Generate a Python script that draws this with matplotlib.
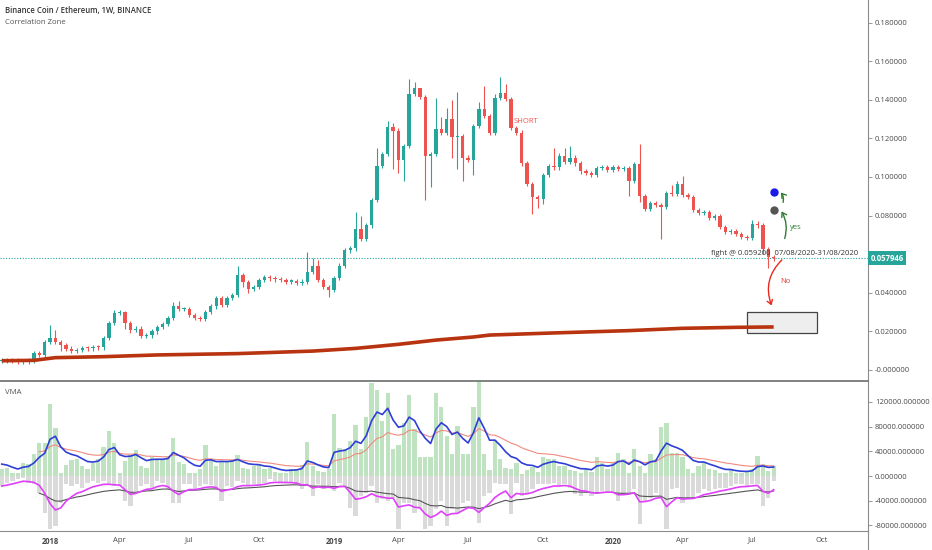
import numpy as np
import pandas as pd
import matplotlib
matplotlib.use('Agg')
import matplotlib.pyplot as plt
from matplotlib.patches import Rectangle, FancyArrowPatch
from matplotlib.lines import Line2D
import matplotlib.transforms as mtransforms

plt.rcParams['font.family'] = ['Open Sans', 'DejaVu Sans']

# ---- data (weekly BNB/ETH) ----
first_week = '2017-10-30'
first_open = 0.0048

closes = [
    0.0050, 0.0050, 0.0048, 0.0041, 0.0044, 0.0050, 0.0088, 0.0078, 0.0145, 0.0166,
    0.0145, 0.0130, 0.0110, 0.0098, 0.0104, 0.0114, 0.0112, 0.0120, 0.0117, 0.0166,
    0.0244, 0.0295, 0.0302, 0.0243, 0.0207, 0.0215, 0.0176, 0.0180, 0.0200, 0.0223,
    0.0238, 0.0270, 0.0330, 0.0316, 0.0316, 0.0285, 0.0270, 0.0264, 0.0300, 0.0330,
    0.0373, 0.0337, 0.0373, 0.0389, 0.0490, 0.0456, 0.0420, 0.0430, 0.0466, 0.0480,
    0.0475, 0.0470, 0.0466, 0.0458, 0.0462, 0.0452, 0.0458, 0.0510, 0.0540, 0.0466,
    0.0430, 0.0414, 0.0476, 0.0540, 0.0620, 0.0630, 0.0730, 0.0680, 0.0750, 0.0880,
    0.1057, 0.1120, 0.1260, 0.1240, 0.1090, 0.1160, 0.1430, 0.1460, 0.1415, 0.1110,
    0.1120, 0.1250, 0.1230, 0.1300, 0.1207, 0.1210, 0.1100, 0.1090, 0.1265, 0.1350,
    0.1316, 0.1230, 0.1410, 0.1435, 0.1404, 0.1254, 0.1230, 0.1070, 0.0964, 0.0896,
    0.0886, 0.1010, 0.1057, 0.1050, 0.1110, 0.1080, 0.1100, 0.1070, 0.1030, 0.1020,
    0.1010, 0.1047, 0.1050, 0.1036, 0.1050, 0.1043, 0.1047, 0.0980, 0.1067, 0.0900,
    0.0834, 0.0865, 0.0855, 0.0845, 0.0917, 0.0912, 0.0964, 0.0907, 0.0896, 0.0829,
    0.0813, 0.0818, 0.0790, 0.0798, 0.0740, 0.0715, 0.0720, 0.0705, 0.0690, 0.0684,
    0.0756, 0.0750, 0.0627, 0.0585, 0.0579,
]

# long wicks (bar index -> price), other wicks are short
wick_high = {9: 0.0233, 10: 0.0207, 21: 0.031, 22: 0.031, 23: 0.0305, 32: 0.035,
             33: 0.036, 44: 0.054, 45: 0.050, 57: 0.061, 58: 0.058, 59: 0.057,
             66: 0.082, 67: 0.080, 70: 0.115, 72: 0.129, 73: 0.128, 76: 0.151,
             77: 0.149, 78: 0.146, 81: 0.141, 82: 0.131, 83: 0.136, 84: 0.140,
             85: 0.144, 89: 0.139, 90: 0.147, 92: 0.143, 93: 0.152, 94: 0.148,
             103: 0.115, 105: 0.115, 106: 0.116, 119: 0.117, 125: 0.096,
             126: 0.098, 127: 0.1005, 140: 0.0775, 141: 0.077}
wick_low = {10: 0.0135, 11: 0.0100, 23: 0.021, 24: 0.019, 26: 0.0165, 45: 0.043,
            46: 0.040, 61: 0.038, 73: 0.104, 74: 0.102, 75: 0.098, 79: 0.088,
            80: 0.095, 84: 0.110, 85: 0.104, 86: 0.098, 88: 0.101, 99: 0.081,
            100: 0.084, 101: 0.086, 117: 0.090, 119: 0.087, 123: 0.068,
            142: 0.060, 143: 0.053}
wick_pad = 0.0012

# thick long-term average line (bar index, price)
slow_idx = [0, 6, 10, 19, 29, 44, 58, 66, 74, 81, 88, 91, 103, 117, 127, 137, 144]
slow_val = [0.0048, 0.0050, 0.0064, 0.0069, 0.0078, 0.0085, 0.0098, 0.0112, 0.0133,
            0.0155, 0.0171, 0.0181, 0.0192, 0.0204, 0.0216, 0.0221, 0.0223]

# VMA pane, thousands
up_vol = [
    10.8, 13.5, 5.4, 4.3, 21.6, 18.9, 35.1, 53.0, 53.0, 116.0,
    77.0, 4.3, 17.3, 26.0, 27.0, 16.2, 11.9, 20.5, 28.1, 47.6,
    73.0, 54.0, 5.4, 24.3, 33.5, 41.6, 16.2, 13.5, 31.3, 28.1,
    27.0, 31.3, 62.2, 22.7, 18.9, 5.4, 4.3, 11.9, 49.7, 28.1,
    16.2, 24.3, 22.7, 26.0, 33.5, 13.5, 11.9, 16.2, 17.3, 10.8,
    13.5, 6.5, 4.3, 5.4, 10.8, 10.8, 17.3, 55.1, 16.2, 8.1,
    6.5, 10.8, 100.0, 46.0, 44.3, 56.8, 82.2, 44.3, 96.2, 150.0,
    139.0, 89.2, 135.0, 43.2, 49.7, 86.5, 131.0, 75.7, 31.3, 31.3,
    31.3, 134.0, 112.0, 64.9, 35.1, 81.0, 35.1, 35.1, 112.0, 154.0,
    35.1, 9.7, 58.4, 28.1, 13.5, 11.9, 21.6, 2.7, 9.7, 15.1,
    6.5, 31.3, 28.1, 28.1, 16.2, 16.2, 9.7, 8.1, 5.4, 10.8,
    6.5, 31.3, 21.6, 11.9, 21.6, 37.8, 27.0, 5.4, 43.2, 16.2,
    5.4, 35.1, 28.1, 80.0, 85.4, 37.8, 37.8, 31.3, 11.9, 5.4,
    16.2, 22.7, 10.8, 9.7, 5.4, 4.3, 9.7, 4.3, 5.4, 6.5,
    10.8, 32.4, 18.9, 8.1, 16.2,
]
down_vol = [
    -16.2, -10.8, -8.1, -5.4, -2.7, -10.8, -13.5, -27.0, -59.5, -86.5,
    -81.0, -43.2, -13.5, -16.2, -13.5, -18.9, -10.8, -8.1, -10.8, -8.1,
    -13.5, -16.2, -16.2, -40.5, -48.6, -24.3, -16.2, -13.5, -18.9, -8.1,
    -10.8, -21.6, -43.2, -43.2, -13.5, -13.5, -22.7, -16.2, -13.5, -15.1,
    -21.6, -40.5, -16.2, -17.3, -8.1, -10.8, -16.2, -13.5, -13.5, -10.8,
    -5.4, -8.1, -10.8, -10.8, -10.8, -13.5, -21.6, -13.5, -32.4, -13.5,
    -21.6, -16.2, -24.3, -10.8, -16.2, -51.3, -64.9, -32.4, -27.0, -16.2,
    -43.2, -37.8, -40.5, -35.1, -86.5, -43.2, -43.2, -59.5, -54.0, -86.5,
    -81.0, -54.0, -40.5, -81.0, -54.0, -59.5, -43.2, -40.5, -54.0, -75.7,
    -32.4, -27.0, -10.8, -13.5, -13.5, -62.2, -10.8, -32.4, -27.0, -21.6,
    -13.5, -13.5, -13.5, -10.8, -16.2, -13.5, -18.9, -29.7, -32.4, -27.0,
    -32.4, -29.7, -24.3, -24.3, -27.0, -40.5, -29.7, -27.0, -21.6, -78.4,
    -40.5, -35.1, -27.0, -32.4, -86.5, -21.6, -18.9, -43.2, -35.1, -35.1,
    -27.0, -21.6, -24.3, -21.6, -18.9, -18.9, -16.2, -13.5, -13.5, -16.2,
    -13.5, -13.5, -48.6, -35.1, -8.1,
]
# averages start values (read at their first point)
fast_up_seed, slow_up_seed = 22.7, 37.8
fast_dn_seed, slow_dn_seed = -16.2, -28.0
slow_start = 7

month_ticks = ['2018-01', '2018-04', '2018-07', '2018-10', '2019-01', '2019-04',
               '2019-07', '2019-10', '2020-01', '2020-04', '2020-07', '2020-10']

price_ticks = [0.0, 0.02, 0.04, 0.08, 0.10, 0.12, 0.14, 0.16, 0.18]  # 0.06 sits under the price tag
vma_ticks = [-80, -40, 0, 40, 80, 120]
last_price = 0.057946

GREEN = '#26a69a'
RED = '#ef5350'
TXT = '#4a4a4a'
W, H = 932, 550

# ---- figure ----
fig = plt.figure(figsize=(W / 100, H / 100), dpi=100)
ax = fig.add_axes([0, 1 - 381 / H, 868 / W, 381 / H])
axv = fig.add_axes([0, 19 / H, 868 / W, 150 / H], sharex=ax)

n = len(closes)
x = np.arange(n)
c = np.array(closes)
o = np.array([first_open] + closes[:-1])
hi = np.array([wick_high.get(i, max(o[i], c[i]) + wick_pad) for i in range(n)])
lo = np.array([wick_low.get(i, min(o[i], c[i]) - wick_pad) for i in range(n)])
cols = np.where(c >= o, GREEN, RED)

ax.vlines(x, lo, hi, colors=cols, lw=0.8, zorder=2)
body = np.maximum(np.abs(c - o), 0.0006)
ax.bar(x, body, bottom=np.minimum(o, c), width=0.62, color=cols, lw=0, zorder=2)

ax.plot(slow_idx, slow_val, color='#b8330f', lw=2.6, solid_capstyle='butt', zorder=4)

ax.axhline(last_price, color=GREEN, ls=(0, (1, 1.5)), lw=0.8, zorder=1)

# correlation zone box + annotations
ax.add_patch(Rectangle((139.0, 0.0192), 13.1, 0.0108, fc='#eeeeee', ec='#444444',
                       lw=0.9, zorder=3))
ax.plot([144], [0.0922], 'o', color='#1a1ae6', ms=5, zorder=5)
ax.plot([144], [0.0829], 'o', color='#555555', ms=5, zorder=5)

def arrow(a, b, rad, col):
    ax.add_patch(FancyArrowPatch(a, b, connectionstyle='arc3,rad=%s' % rad,
                                 arrowstyle='->,head_length=3,head_width=2',
                                 color=col, lw=1.0, zorder=6))

arrow((145.9, 0.0668), (145.2, 0.0834), 0.25, '#2e7d32')
arrow((145.6, 0.0855), (145.0, 0.0930), 0.35, '#2e7d32')
arrow((145.9, 0.0580), (143.8, 0.0321), 0.35, '#e8281e')

ax.text(147.0, 0.0736, 'yes', color='#2e7d32', fontsize=5.5, va='center')
ax.text(145.2, 0.0461, 'No', color='#e53935', fontsize=5.5, va='center')
ax.text(132.3, 0.0606, 'fight @ 0.059200  07/08/2020-31/08/2020', color='#333333',
        fontsize=5.5, va='center', zorder=7)
ax.text(95.4, 0.1285, 'SHORT', color=RED, fontsize=5.5, va='center')

# ---- VMA pane ----
def ema(vals, span, seed):
    s = pd.Series([seed] + list(vals))
    return s.ewm(span=span, adjust=False).mean().values[1:]

axv.bar(x, up_vol, width=0.8, color='#bfe3c0', lw=0, zorder=1)
axv.bar(x, down_vol, width=0.8, color='#dadada', lw=0, zorder=1)
xs = x[slow_start:]
axv.plot(xs, ema(up_vol[slow_start:], 20, slow_up_seed), color='#f08a80', lw=0.8, zorder=3)
axv.plot(xs, ema(down_vol[slow_start:], 20, slow_dn_seed), color='#555555', lw=0.8, zorder=3)
axv.plot(x, ema(up_vol, 6, fast_up_seed), color='#2f3fd6', lw=1.2, zorder=4)
axv.plot(x, ema(down_vol, 6, fast_dn_seed), color='#e040fb', lw=1.2, zorder=4)

# ---- axes styling ----
ax.set_xlim(-0.33, 161.6)
ax.set_ylim(-0.0057, 0.1917)
axv.set_ylim(-89, 153.8)

ax.yaxis.tick_right()
ax.set_yticks(price_ticks)
ax.set_yticklabels(['-0.000000' if v < 1e-9 else '%.6f' % v for v in price_ticks])
axv.yaxis.tick_right()
axv.set_yticks(vma_ticks)
axv.set_yticklabels(['%.6f' % (v * 1000) for v in vma_ticks])

dates = pd.date_range(first_week, periods=170, freq='7D')
tick_pos, tick_lab = [], []
for m in month_ticks:
    ms = pd.Timestamp(m + '-01')
    tick_pos.append(int(np.argmax(dates >= ms)))
    tick_lab.append(str(ms.year) if ms.month == 1 else ms.strftime('%b'))
axv.set_xticks(tick_pos)
axv.set_xticklabels(tick_lab)
for t, lab in zip(axv.get_xticklabels(), tick_lab):
    if lab.isdigit():
        t.set_fontweight('bold')

for a in (ax, axv):
    a.tick_params(axis='y', length=3, width=0.6, color='#888888', pad=2,
                  labelsize=5.5, labelcolor=TXT)
    a.spines['left'].set_visible(False)
    a.spines['right'].set_color('#8c8c8c')
    a.set_facecolor('white')
ax.tick_params(axis='x', length=0, labelbottom=False)
axv.tick_params(axis='x', length=0, pad=4, labelsize=5.5, labelcolor=TXT)
ax.spines['top'].set_visible(False)
ax.spines['bottom'].set_visible(False)
axv.spines['top'].set_color('#777777')
axv.spines['top'].set_linewidth(1.3)
axv.spines['bottom'].set_color('#8c8c8c')
fig.add_artist(Line2D([868 / W, 868 / W], [0, 19 / H], color='#8c8c8c', lw=0.8,
                      transform=fig.transFigure))

# last price label on the scale
trans = mtransforms.blended_transform_factory(ax.transAxes, ax.transData)
ax.text(1.003, last_price, '0.057946', transform=trans, color='white', fontsize=5.6,
        va='center', ha='left', fontweight='bold', clip_on=False, zorder=10,
        bbox=dict(boxstyle='square,pad=0.35', fc=GREEN, ec='none'))

fig.text(5 / W, 1 - 10 / H, 'Binance Coin / Ethereum, 1W, BINANCE', fontsize=5.6,
         color='#333333', fontweight='semibold', va='center')
fig.text(5 / W, 1 - 22 / H, 'Correlation Zone', fontsize=5.6, color='#555555', va='center')
fig.text(5 / W, 1 - 392 / H, 'VMA', fontsize=5.6, color='#555555', va='center')

fig.savefig('out.png', dpi=100)
